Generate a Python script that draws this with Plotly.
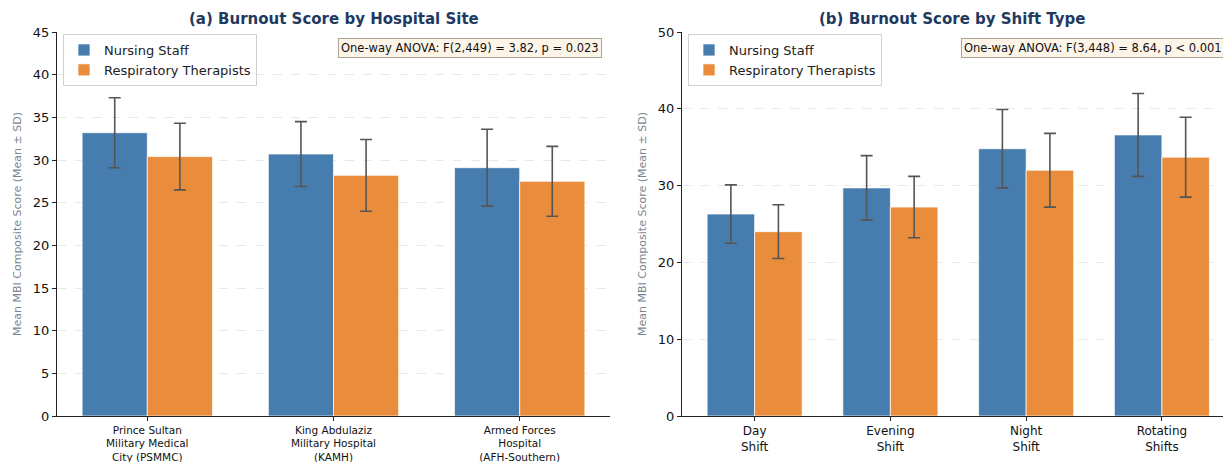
import plotly.graph_objects as go

# ---- data ----
sites = ["Prince Sultan<br>Military Medical<br>City (PSMMC)",
         "King Abdulaziz<br>Military Hospital<br>(KAMH)",
         "Armed Forces<br>Hospital<br>(AFH-Southern)"]
site_nurse_mean = [33.2, 30.7, 29.1]
site_nurse_sd = [4.1, 3.8, 4.5]
site_rt_mean = [30.4, 28.2, 27.5]
site_rt_sd = [3.9, 4.2, 4.1]

shifts = ["Day<br>Shift", "Evening<br>Shift", "Night<br>Shift", "Rotating<br>Shifts"]
shift_nurse_mean = [26.3, 29.7, 34.8, 36.6]
shift_nurse_sd = [3.8, 4.2, 5.1, 5.4]
shift_rt_mean = [24.0, 27.2, 32.0, 33.7]
shift_rt_sd = [3.5, 4.0, 4.8, 5.2]

series_names = ["Nursing Staff", "Respiratory Therapists"]
BLUE = "#477DAE"
ORANGE = "#E98C3B"
ERR = "#555555"
FONT = "DejaVu Sans"
W = 0.35

fig = go.Figure()

def add_group(xpos, nmean, nsd, rmean, rsd, xa, ya, legend):
    fig.add_trace(go.Bar(
        x=xpos, y=nmean, width=W, offset=-W, name=series_names[0],
        marker=dict(color=BLUE, line=dict(color="rgba(255,255,255,0.7)", width=1)),
        error_y=dict(type="data", array=nsd, color=ERR, thickness=1.6, width=6),
        xaxis=xa, yaxis=ya, legend=legend))
    fig.add_trace(go.Bar(
        x=xpos, y=rmean, width=W, offset=0, name=series_names[1],
        marker=dict(color=ORANGE, line=dict(color="rgba(255,255,255,0.7)", width=1)),
        error_y=dict(type="data", array=rsd, color=ERR, thickness=1.6, width=6),
        xaxis=xa, yaxis=ya, legend=legend))

pos1 = list(range(len(sites)))
pos2 = list(range(len(shifts)))
add_group(pos1, site_nurse_mean, site_nurse_sd, site_rt_mean, site_rt_sd, "x", "y", "legend")
add_group(pos2, shift_nurse_mean, shift_nurse_sd, shift_rt_mean, shift_rt_sd, "x2", "y2", "legend2")

ydom = [46 / 462, 430 / 462]
axis_common = dict(showline=True, linecolor="#222222", linewidth=1, ticks="outside",
                   ticklen=4, tickcolor="#222222", zeroline=False, automargin=False,
                   tickfont=dict(family=FONT, size=13, color="#111111"))
ytitle_font = dict(family=FONT, size=11, color="#7a8590")

fig.update_layout(
    width=1223, height=462,
    margin=dict(l=0, r=0, t=0, b=0, autoexpand=False),
    paper_bgcolor="white", plot_bgcolor="white",
    font=dict(family=FONT),
    barmode="overlay",
    showlegend=True,
    xaxis=dict(domain=[57 / 1223, 610 / 1223], range=[-0.485, 2.485],
               tickvals=pos1, ticktext=sites, showgrid=False,
               **{**axis_common, "tickfont": dict(family=FONT, size=10.5, color="#111111")}),
    yaxis=dict(domain=ydom, range=[0, 45], tickvals=list(range(0, 46, 5)),
               showgrid=True, gridcolor="#e8e8e8", griddash="dash", gridwidth=1,
               title=dict(text="Mean MBI Composite Score (Mean ± SD)",
                          font=ytitle_font, standoff=9),
               **axis_common),
    xaxis2=dict(domain=[682 / 1223, 1.0], range=[-0.535, 3.45],
                tickvals=pos2, ticktext=shifts, showgrid=False, anchor="y2",
                **{**axis_common, "tickfont": dict(family=FONT, size=12, color="#111111")}),
    yaxis2=dict(domain=ydom, range=[0, 50], tickvals=list(range(0, 51, 10)), anchor="x2",
                showgrid=True, gridcolor="#e8e8e8", griddash="dash", gridwidth=1,
                title=dict(text="Mean MBI Composite Score (Mean ± SD)",
                           font=ytitle_font, standoff=9),
                **axis_common),
    legend=dict(x=63 / 1223, y=(462 - 34) / 462, xanchor="left", yanchor="top",
                bgcolor="rgba(255,255,255,0.9)", bordercolor="#d0d0d0", borderwidth=1,
                font=dict(family=FONT, size=13, color="#222222"), tracegroupgap=0,
                itemwidth=30),
    legend2=dict(x=688 / 1223, y=(462 - 34) / 462, xanchor="left", yanchor="top",
                 bgcolor="rgba(255,255,255,0.9)", bordercolor="#d0d0d0", borderwidth=1,
                 font=dict(family=FONT, size=13, color="#222222"), tracegroupgap=0,
                 itemwidth=30),
    annotations=[
        dict(text="<b>(a) Burnout Score by Hospital Site</b>", x=334 / 1223, y=(462 - 19) / 462,
             xref="paper", yref="paper", showarrow=False, xanchor="center", yanchor="middle",
             font=dict(family=FONT, size=15, color="#1F3A5F")),
        dict(text="<b>(b) Burnout Score by Shift Type</b>", x=952 / 1223, y=(462 - 19) / 462,
             xref="paper", yref="paper", showarrow=False, xanchor="center", yanchor="middle",
             font=dict(family=FONT, size=15, color="#1F3A5F")),
        dict(text="One-way ANOVA: F(2,449) = 3.82, p = 0.023", x=602 / 1223, y=(462 - 48) / 462,
             xref="paper", yref="paper", showarrow=False, xanchor="right", yanchor="middle",
             font=dict(family=FONT, size=11.5, color="#111111"),
             bgcolor="#FDF5E8", bordercolor="#aaa597", borderwidth=1, borderpad=2),
        dict(text="One-way ANOVA: F(3,448) = 8.64, p < 0.001", x=961 / 1223, y=(462 - 48) / 462,
             xref="paper", yref="paper", showarrow=False, xanchor="left", yanchor="middle",
             font=dict(family=FONT, size=11.5, color="#111111"),
             bgcolor="#FDF5E8", bordercolor="#aaa597", borderwidth=1, borderpad=2),
    ],
)

fig.write_html("out.html", config={"displayModeBar": False},
               post_script="document.body.style.margin='0';document.body.style.overflow='hidden';")
